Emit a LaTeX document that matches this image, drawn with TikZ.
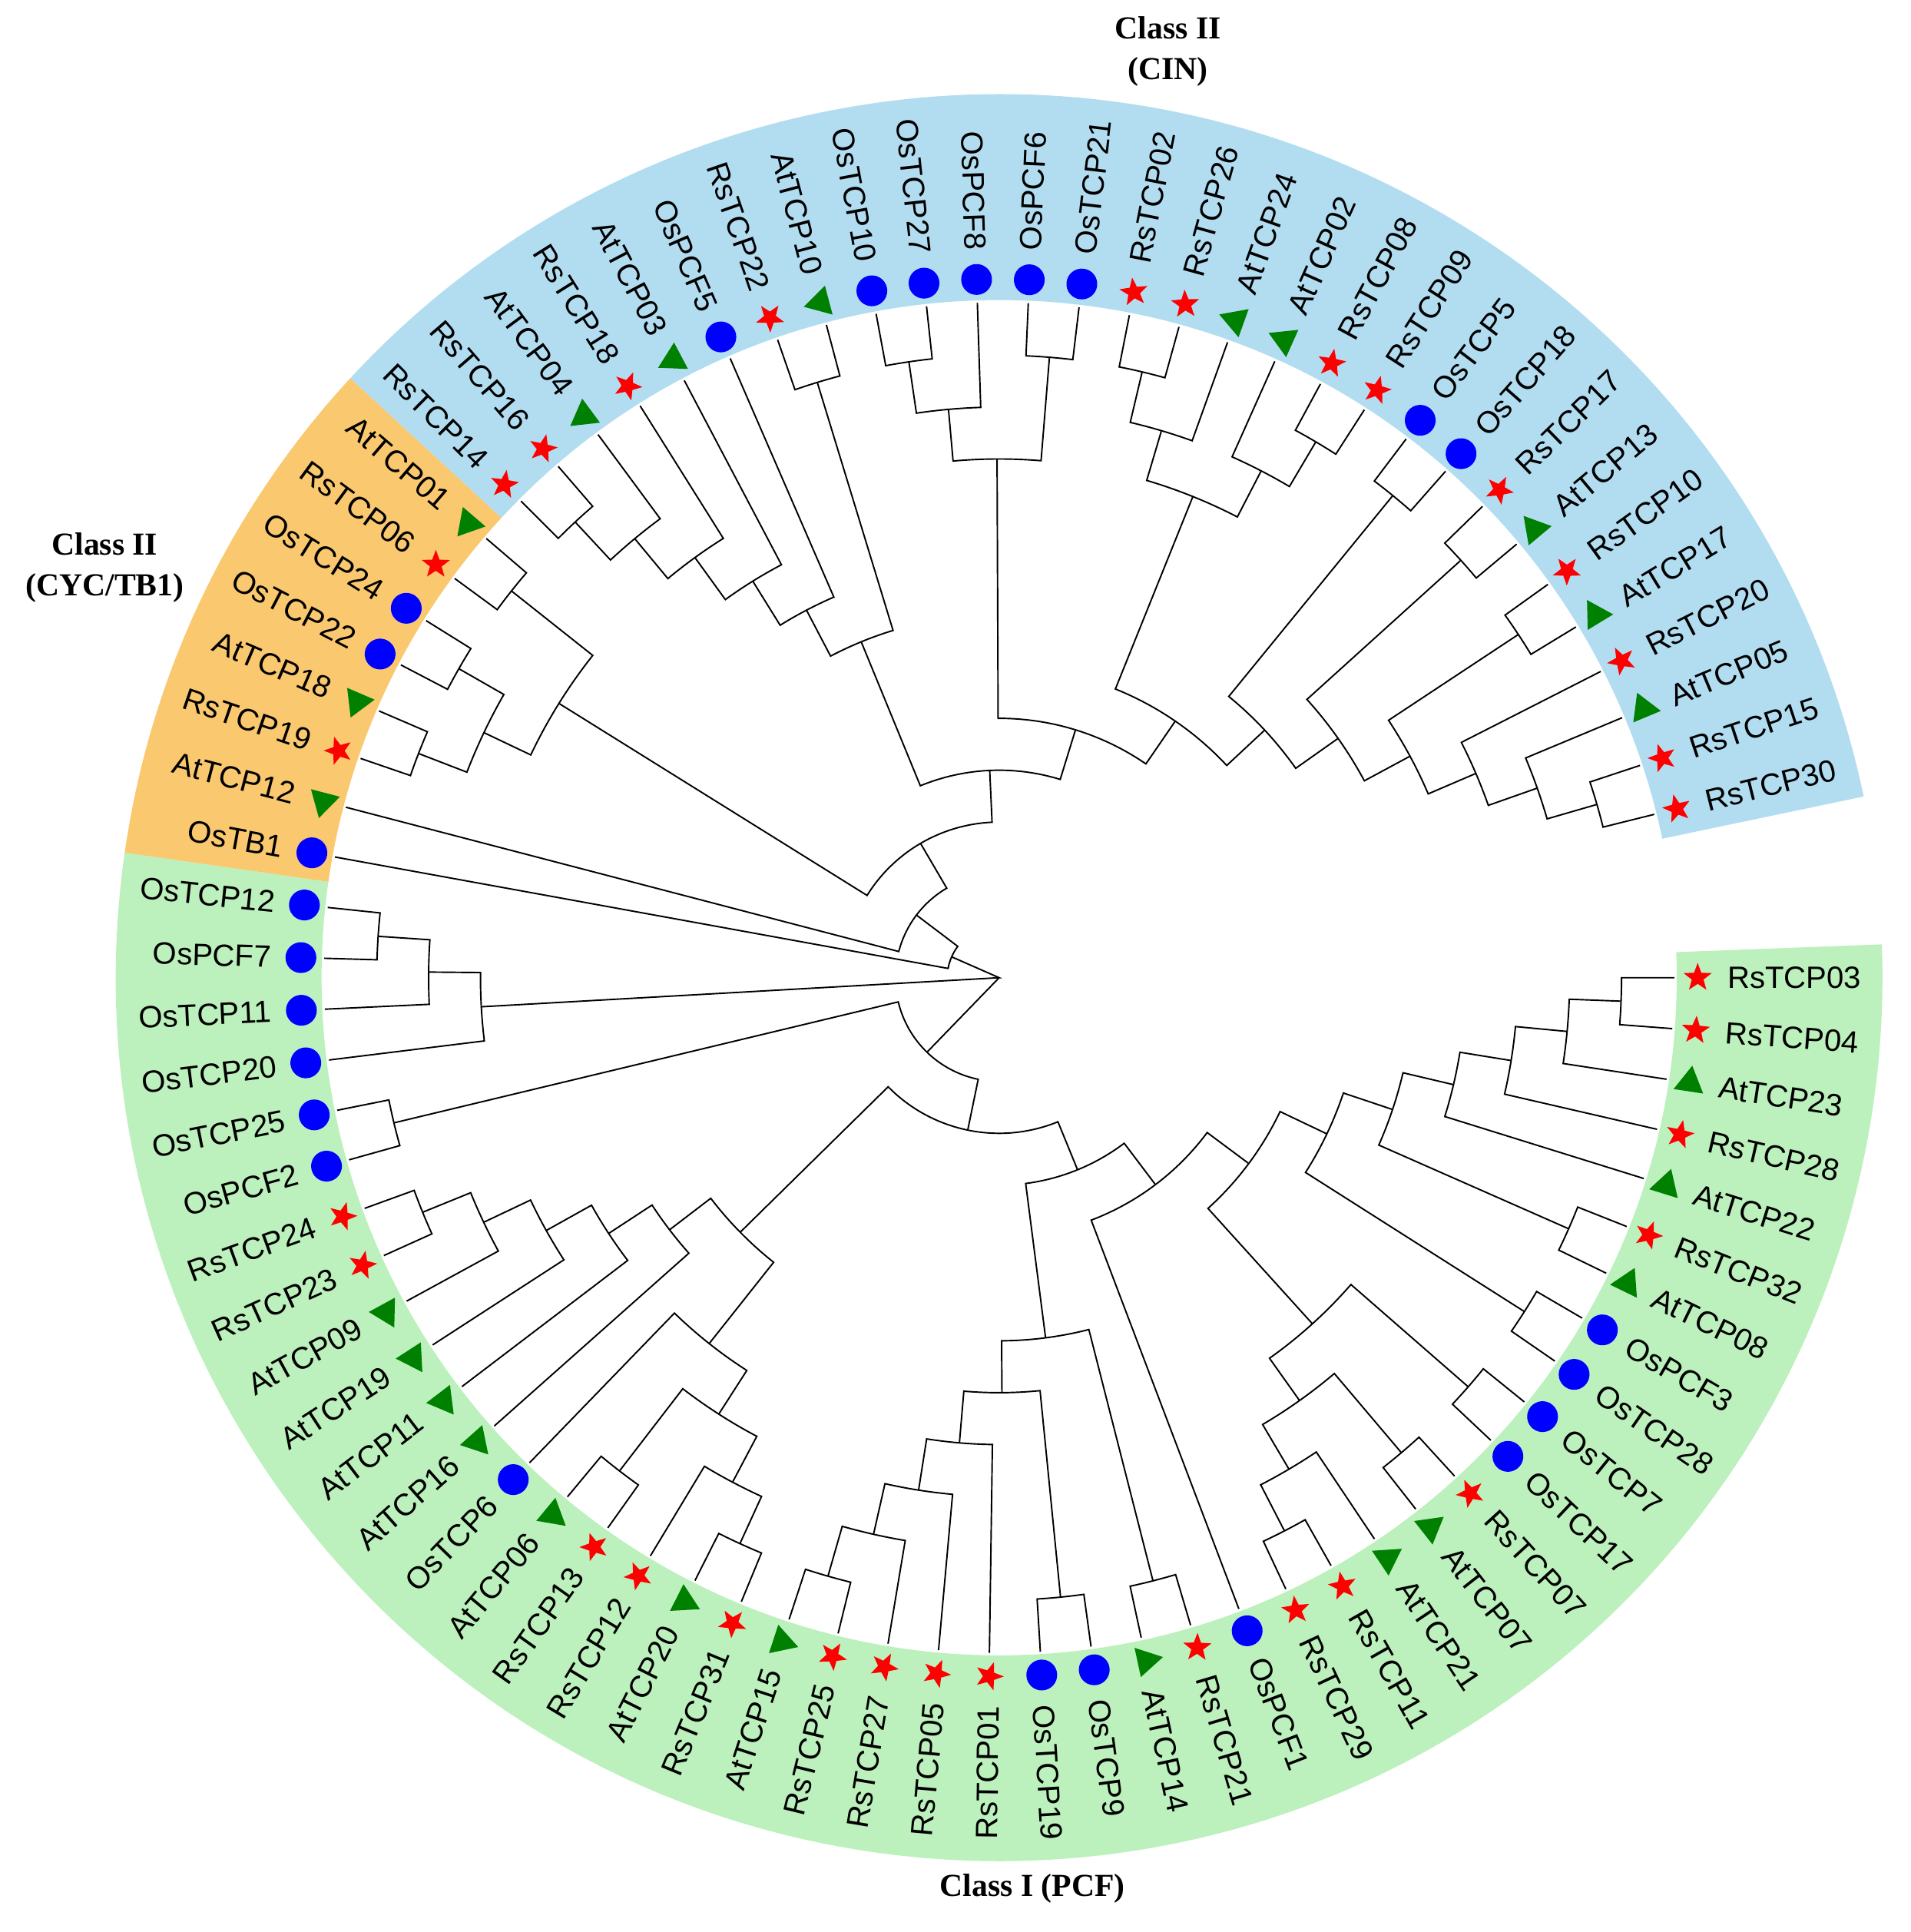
\documentclass[tikz,border=0pt]{standalone}
\usepackage{fontspec}
\setmainfont{Liberation Sans}
\newfontfamily\clsfont{Liberation Serif}
\usetikzlibrary{shapes.geometric}
\definecolor{bandblue}{RGB}{178,221,240}
\definecolor{bandorange}{RGB}{250,200,110}
\definecolor{bandgreen}{RGB}{188,240,188}
\definecolor{mkred}{RGB}{255,0,0}
\definecolor{mkblue}{RGB}{0,0,255}
\definecolor{mkgreen}{RGB}{0,128,0}
\tikzset{
  branch/.style={line width=1.2pt, black},
  mk-s/.style={star, star points=5, star point ratio=2.4, fill=mkred, inner sep=0pt, minimum size=24pt},
  mk-c/.style={circle, fill=mkblue, inner sep=0pt, minimum size=25pt},
  mk-t/.style={regular polygon, regular polygon sides=3, fill=mkgreen, inner sep=0pt, minimum size=28pt},
  lab/.style={inner sep=0pt, font=\fontsize{25}{30}\selectfont},
  cls/.style={font=\clsfont\bfseries\fontsize{26}{33}\selectfont, align=center, inner sep=0pt},
}
\newcommand\tleaf[3]{%
  \pgfmathsetmacro\tlA{-4.325*#2}%
  \expandafter\xdef\csname ta@#1\endcsname{\tlA}%
  \coordinate (#1) at (\tlA:548pt);%
  \node[mk-#3, rotate=\tlA] (m#1) at (\tlA:567pt) {};%
  \pgfmathsetmacro\tlC{cos(\tlA)}%
  \ifdim\tlC pt<0pt
    \pgfmathsetmacro\tlR{\tlA+180}%
    \node[lab, anchor=east, rotate=\tlR] (l#1) at (\tlA:591pt) {#1};%
  \else
    \node[lab, anchor=west, rotate=\tlA] (l#1) at (\tlA:591pt) {#1};%
  \fi
}
\newcommand\tnode[4]{%
  \edef\tnA{\csname ta@#2\endcsname}%
  \edef\tnB{\csname ta@#3\endcsname}%
  \pgfmathsetmacro\tnM{(\tnA+\tnB)/2}%
  \pgfmathsetmacro\tnR{42.1*#4}%
  \expandafter\xdef\csname ta@#1\endcsname{\tnM}%
  \coordinate (#1) at (\tnM:\tnR pt);%
  \draw[branch] (#2) -- (\tnA:\tnR pt) arc[start angle=\tnA, end angle=\tnB, radius=\tnR pt] -- (#3);%
}
\begin{document}
\begin{tikzpicture}[x=1pt,y=1pt]
\useasboundingbox (-811,-774.5) rectangle (740,793.5);
% bands
\fill[bandgreen] (2.1625:550pt) arc[start angle=2.1625, end angle=-188.1375, radius=550pt] -- (-188.1375:717pt) arc[start angle=-188.1375, end angle=2.1625, radius=717pt] -- cycle;
\fill[bandorange] (-188.1375:550pt) arc[start angle=-188.1375, end angle=-222.7375, radius=550pt] -- (-222.7375:717pt) arc[start angle=-222.7375, end angle=-188.1375, radius=717pt] -- cycle;
\fill[bandblue] (-222.7375:550pt) arc[start angle=-222.7375, end angle=-348.1625, radius=550pt] -- (-348.1625:717pt) arc[start angle=-348.1625, end angle=-222.7375, radius=717pt] -- cycle;
% leaves
\tleaf{RsTCP03}{0}{s}
\tleaf{RsTCP04}{1}{s}
\tleaf{AtTCP23}{2}{t}
\tleaf{RsTCP28}{3}{s}
\tleaf{AtTCP22}{4}{t}
\tleaf{RsTCP32}{5}{s}
\tleaf{AtTCP08}{6}{t}
\tleaf{OsPCF3}{7}{c}
\tleaf{OsTCP28}{8}{c}
\tleaf{OsTCP7}{9}{c}
\tleaf{OsTCP17}{10}{c}
\tleaf{RsTCP07}{11}{s}
\tleaf{AtTCP07}{12}{t}
\tleaf{AtTCP21}{13}{t}
\tleaf{RsTCP11}{14}{s}
\tleaf{RsTCP29}{15}{s}
\tleaf{OsPCF1}{16}{c}
\tleaf{RsTCP21}{17}{s}
\tleaf{AtTCP14}{18}{t}
\tleaf{OsTCP9}{19}{c}
\tleaf{OsTCP19}{20}{c}
\tleaf{RsTCP01}{21}{s}
\tleaf{RsTCP05}{22}{s}
\tleaf{RsTCP27}{23}{s}
\tleaf{RsTCP25}{24}{s}
\tleaf{AtTCP15}{25}{t}
\tleaf{RsTCP31}{26}{s}
\tleaf{AtTCP20}{27}{t}
\tleaf{RsTCP12}{28}{s}
\tleaf{RsTCP13}{29}{s}
\tleaf{AtTCP06}{30}{t}
\tleaf{OsTCP6}{31}{c}
\tleaf{AtTCP16}{32}{t}
\tleaf{AtTCP11}{33}{t}
\tleaf{AtTCP19}{34}{t}
\tleaf{AtTCP09}{35}{t}
\tleaf{RsTCP23}{36}{s}
\tleaf{RsTCP24}{37}{s}
\tleaf{OsPCF2}{38}{c}
\tleaf{OsTCP25}{39}{c}
\tleaf{OsTCP20}{40}{c}
\tleaf{OsTCP11}{41}{c}
\tleaf{OsPCF7}{42}{c}
\tleaf{OsTCP12}{43}{c}
\tleaf{OsTB1}{44}{c}
\tleaf{AtTCP12}{45}{t}
\tleaf{RsTCP19}{46}{s}
\tleaf{AtTCP18}{47}{t}
\tleaf{OsTCP22}{48}{c}
\tleaf{OsTCP24}{49}{c}
\tleaf{RsTCP06}{50}{s}
\tleaf{AtTCP01}{51}{t}
\tleaf{RsTCP14}{52}{s}
\tleaf{RsTCP16}{53}{s}
\tleaf{AtTCP04}{54}{t}
\tleaf{RsTCP18}{55}{s}
\tleaf{AtTCP03}{56}{t}
\tleaf{OsPCF5}{57}{c}
\tleaf{RsTCP22}{58}{s}
\tleaf{AtTCP10}{59}{t}
\tleaf{OsTCP10}{60}{c}
\tleaf{OsTCP27}{61}{c}
\tleaf{OsPCF8}{62}{c}
\tleaf{OsPCF6}{63}{c}
\tleaf{OsTCP21}{64}{c}
\tleaf{RsTCP02}{65}{s}
\tleaf{RsTCP26}{66}{s}
\tleaf{AtTCP24}{67}{t}
\tleaf{AtTCP02}{68}{t}
\tleaf{RsTCP08}{69}{s}
\tleaf{RsTCP09}{70}{s}
\tleaf{OsTCP5}{71}{c}
\tleaf{OsTCP18}{72}{c}
\tleaf{RsTCP17}{73}{s}
\tleaf{AtTCP13}{74}{t}
\tleaf{RsTCP10}{75}{s}
\tleaf{AtTCP17}{76}{t}
\tleaf{RsTCP20}{77}{s}
\tleaf{AtTCP05}{78}{t}
\tleaf{RsTCP15}{79}{s}
\tleaf{RsTCP30}{80}{s}
% class I (PCF)
\tnode{nK8}{RsTCP03}{RsTCP04}{12}
\tnode{nK7}{AtTCP23}{nK8}{11}
\tnode{nK6}{RsTCP28}{nK7}{10}
\tnode{nK5}{AtTCP22}{nK6}{9}
\tnode{nK4}{RsTCP32}{AtTCP08}{12}
\tnode{nK3}{nK4}{nK5}{8}
\tnode{nK2}{OsPCF3}{OsTCP28}{12}
\tnode{nK1}{nK2}{nK3}{7}
\tnode{nJ4}{OsTCP7}{OsTCP17}{12}
\tnode{nJ6}{RsTCP07}{AtTCP07}{12}
\tnode{nJ8}{RsTCP11}{RsTCP29}{12}
\tnode{nJ7}{nJ8}{AtTCP21}{11}
\tnode{nJ5}{nJ7}{nJ6}{10}
\tnode{nJ3}{nJ5}{nJ4}{9}
\tnode{nJ2}{nJ3}{nK1}{6}
\tnode{nJ}{OsPCF1}{nJ2}{5}
\tnode{nX2}{AtTCP14}{RsTCP21}{12}
\tnode{nY2}{OsTCP9}{OsTCP19}{12}
\tnode{nZ4}{AtTCP15}{RsTCP25}{12}
\tnode{nZ3}{nZ4}{RsTCP27}{11}
\tnode{nZ2}{nZ3}{RsTCP05}{10}
\tnode{nZ}{nZ2}{RsTCP01}{9}
\tnode{nY}{nZ}{nY2}{8}
\tnode{nX}{nY}{nX2}{7}
\tnode{nI}{nX}{nJ}{4}
\tnode{nU}{AtTCP20}{RsTCP31}{12}
\tnode{nT}{RsTCP12}{nU}{11}
\tnode{nS}{AtTCP06}{RsTCP13}{12}
\tnode{nR}{nS}{nT}{10}
\tnode{nQ}{OsTCP6}{nR}{9}
\tnode{nV1}{RsTCP24}{RsTCP23}{12}
\tnode{nV2}{nV1}{AtTCP09}{11}
\tnode{nV3}{nV2}{AtTCP19}{10}
\tnode{nV4}{nV3}{AtTCP11}{9}
\tnode{nV5}{nV4}{AtTCP16}{8}
\tnode{nP}{nV5}{nQ}{7}
\tnode{nH}{nP}{nI}{3}
\tnode{nN}{OsTCP25}{OsPCF2}{12}
\tnode{nG}{nN}{nH}{2}
\tnode{nM}{OsTCP12}{OsPCF7}{12}
\tnode{nL}{nM}{OsTCP11}{11}
\tnode{nKK}{nL}{OsTCP20}{10}
% class II (CYC/TB1)
\tnode{nF5}{AtTCP18}{RsTCP19}{12}
\tnode{nF3}{OsTCP24}{OsTCP22}{12}
\tnode{nF4}{nF3}{nF5}{11}
\tnode{nF1}{AtTCP01}{RsTCP06}{12}
\tnode{nF2}{nF1}{nF4}{10}
% class II (CIN)
\tnode{nQ1}{RsTCP15}{RsTCP30}{12}
\tnode{nQ2}{AtTCP05}{nQ1}{11}
\tnode{nQ3}{RsTCP20}{nQ2}{10}
\tnode{nP11}{RsTCP10}{AtTCP17}{12}
\tnode{nQ4}{nP11}{nQ3}{9}
\tnode{nP8}{RsTCP17}{AtTCP13}{12}
\tnode{nP10}{nP8}{nQ4}{8}
\tnode{nP6}{OsTCP5}{OsTCP18}{12}
\tnode{nP9}{nP6}{nP10}{7}
\tnode{nP4}{RsTCP08}{RsTCP09}{12}
\tnode{nP5}{AtTCP02}{nP4}{11}
\tnode{nP1}{RsTCP02}{RsTCP26}{12}
\tnode{nP2}{nP1}{AtTCP24}{11}
\tnode{nP3}{nP2}{nP5}{10}
\tnode{nE3}{nP3}{nP9}{6}
\tnode{nO3}{OsPCF6}{OsTCP21}{12}
\tnode{nO4}{OsTCP10}{OsTCP27}{12}
\tnode{nO2}{nO4}{OsPCF8}{11}
\tnode{nO1}{nO2}{nO3}{10}
\tnode{nE2}{nO1}{nE3}{5}
\tnode{nR1}{RsTCP22}{AtTCP10}{12}
\tnode{nR5}{RsTCP14}{RsTCP16}{12}
\tnode{nR6}{nR5}{AtTCP04}{11}
\tnode{nR7}{nR6}{RsTCP18}{10}
\tnode{nR8}{nR7}{AtTCP03}{9}
\tnode{nR3}{nR8}{OsPCF5}{8}
\tnode{nR2}{nR3}{nR1}{7}
\tnode{nE}{nR2}{nE2}{4}
\tnode{nA}{nE}{nF2}{3}
\tnode{nC}{nA}{AtTCP12}{2}
\tnode{nD}{nC}{OsTB1}{1}
% root
\coordinate (root) at (0,0);
\draw[branch] (nD) -- (root) -- (nKK);
\draw[branch] (root) -- (nG);
% class labels
\node[cls] (cin) at (137,752) {Class II\\(CIN)};
\node[cls] (cyc) at (-726,332.5) {Class II\\(CYC/TB1)};
\node[cls] (pcf) at (27,-739.5) {Class I (PCF)};
\end{tikzpicture}
\end{document}
